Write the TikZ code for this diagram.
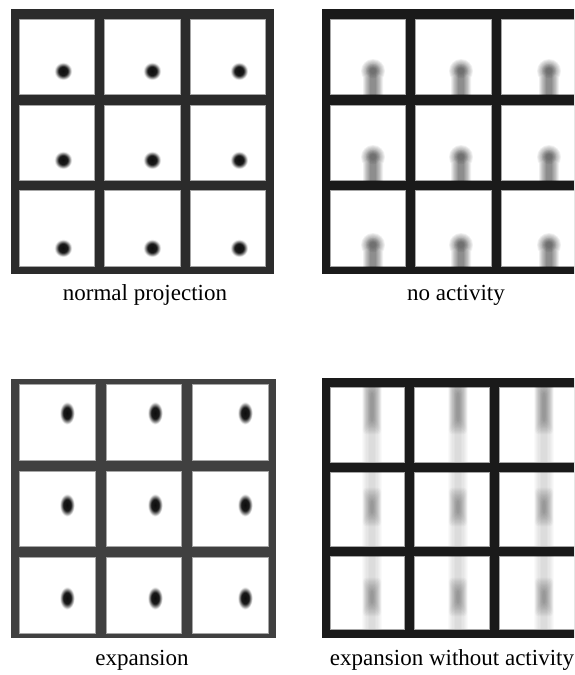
\documentclass[tikz,border=0pt]{standalone}
\usepackage{fontspec}
\setmainfont{Liberation Serif}
\usepackage{xcolor}
\usetikzlibrary{positioning}

\definecolor{frameA}{HTML}{2B2B2B}
\definecolor{frameB}{HTML}{1A1A1A}
\definecolor{frameC}{HTML}{404040}
\pgfdeclareradialshading{softdot}{\pgfpointorigin}{color(0bp)=(black!95); color(12bp)=(black!90); color(23bp)=(white); color(25bp)=(white); color(50bp)=(white)}

\begin{document}
\begin{tikzpicture}[x=0.5pt, y=-0.5pt,
        cell/.style={fill=white, draw=black!35, line width=0.5pt},
        caption/.style={anchor=base, inner sep=0pt, font=\fontsize{11.5}{14}\selectfont}]
    \useasboundingbox (0,0) rectangle (574,675);
    \clip (0,0) rectangle (574,675);

    % normal projection
    \fill[frameA] (11,9) rectangle (274,274);
    \foreach \xa/\xb/\dx in {19/94/63, 104/180/152, 190/265/239}
        \foreach \ya/\yb/\dy in {19/94/71, 105/180/160, 190/266/248} {
            \draw[cell] (\xa,\ya) rectangle (\xb,\yb);
            \shade[shading=softdot] (\dx,\dy) circle (4.7pt);
        }

    % no activity
    \fill[frameB] (322,9) rectangle (600,274);
    \foreach \xa/\xb/\bx in {330/405/373, 415/491/461, 501/577/549}
        \foreach \ya/\yb/\by in {19/94/71, 105/180/157, 190/266/245} {
            \draw[cell] (\xa,\ya) rectangle (\xb,\yb);
            \begin{scope}
                \clip (\xa,\ya) rectangle (\xb,\yb);
                \foreach \k in {1,...,10}
                    \fill[black, opacity=0.055] (\bx,\by) circle[radius=\k*0.45pt+1.5pt]
                        (\bx-\k*0.8-2,\by) rectangle (\bx+\k*0.8+2,\yb+10);
                \foreach \k in {1,...,4}
                    \fill[black, opacity=0.05] (\bx,\by) circle[radius=\k*0.7pt+0.8pt];
            \end{scope}
        }

    % expansion
    \fill[frameC] (11,379) rectangle (276,638);
    \foreach \xa/\xb/\dx in {19/95/67, 106/181/155, 192/268/245}
        \foreach \ya/\yb/\dy in {384/460/413, 471/546/505, 557/633/598} {
            \draw[cell] (\xa,\ya) rectangle (\xb,\yb);
            \shade[shading=softdot] (\dx,\dy) ellipse[x radius=4pt, y radius=6pt];
        }

    % expansion without activity
    \fill[frameB] (322,378) rectangle (600,638);
    \foreach \xa/\xb/\sx in {330/404/372, 414/489/458, 499/575/544}
        \foreach \ya/\yb/\sa/\sb in {387/462/394/420, 472/546/502/512, 556/629/592/602} {
            \draw[cell] (\xa,\ya) rectangle (\xb,\yb);
            \begin{scope}
                \clip (\xa,\ya) rectangle (\xb,\yb);
                \foreach \k in {1,...,7}
                    \fill[black, opacity=0.018] (\sx-\k*1.2-2,\yb) rectangle (\sx+\k*1.2+2,\ya);
                \foreach \k in {1,...,12}
                    \fill[black, opacity=0.027, rounded corners=2pt]
                        (\sx-\k*0.7-1,\sb+\k*1.2) rectangle (\sx+\k*0.7+1,\sa-\k*1.2);
            \end{scope}
        }

    \node[caption] (capNormal) at (145,300) {normal projection};
    \node[caption] (capNoAct) at (456,300) {no activity};
    \node[caption] (capExp) at (142,665) {expansion};
    \node[caption] (capExpNoAct) at (452,665) {expansion without activity};
\end{tikzpicture}
\end{document}
